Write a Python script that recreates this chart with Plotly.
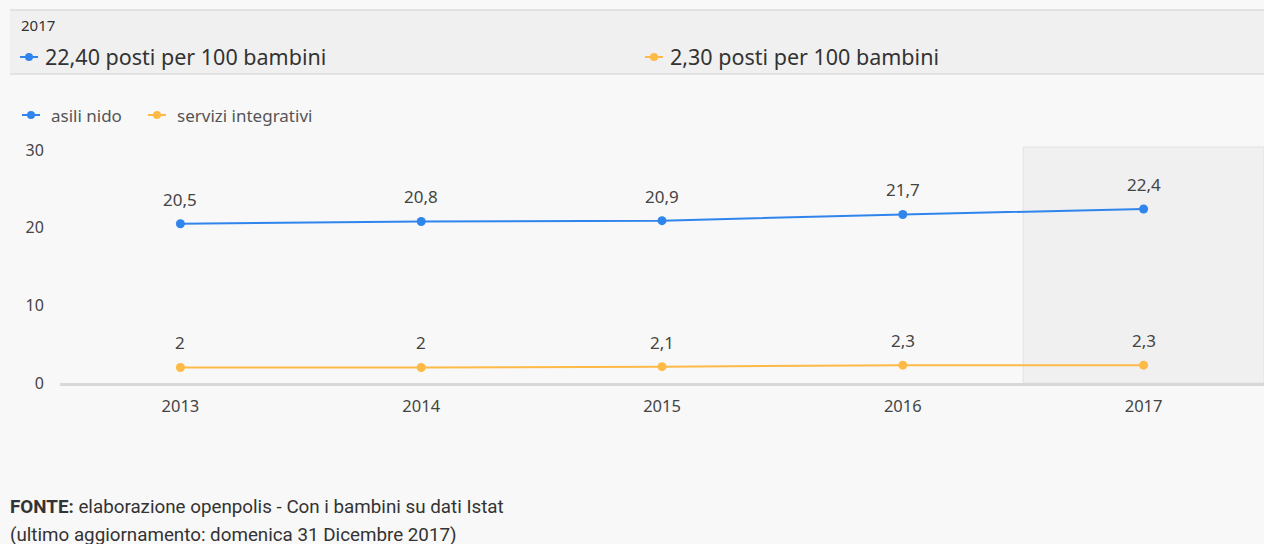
import plotly.graph_objects as go

years = [2013, 2014, 2015, 2016, 2017]
asili_nido = [20.5, 20.8, 20.9, 21.7, 22.4]
servizi_integrativi = [2.0, 2.0, 2.1, 2.3, 2.3]
series_names = ["asili nido", "servizi integrativi"]
y_ticks = [0, 10, 20, 30]
highlight_year = 2017
unit_text = "posti per 100 bambini"

BLUE = "#3085ec"
ORANGE = "#fdba47"
W, H = 1264, 544
FONT = "Noto Sans"

def px(x):
    return x / W

def py(y):
    return 1 - y / H

def fmt(v, dec=None):
    s = f"{v:.{dec}f}" if dec is not None else f"{v:g}"
    return s.replace(".", ",")

fig = go.Figure()
for name, vals, col in [(series_names[0], asili_nido, BLUE), (series_names[1], servizi_integrativi, ORANGE)]:
    fig.add_trace(go.Scatter(
        x=years, y=vals, name=name, mode="lines+markers",
        line=dict(color=col, width=2), marker=dict(color=col, size=9),
        hoverinfo="x+y", showlegend=False,
    ))

annotations = []
for vals in (asili_nido, servizi_integrativi):
    for x, v in zip(years, vals):
        annotations.append(dict(x=x, y=v, xref="x", yref="y", text=fmt(v), showarrow=False,
                                yanchor="bottom", yshift=11,
                                font=dict(family=FONT, size=17, color="#444")))

shapes = []
# highlighted year band
shapes.append(dict(type="rect", xref="x", yref="paper", x0=highlight_year - 0.5, x1=highlight_year + 0.5,
                   y0=py(383), y1=py(147), fillcolor="#f0f0f0", line=dict(color="#e2e2e2", width=1), layer="below"))
# header panel
shapes.append(dict(type="rect", xref="paper", yref="paper", x0=px(10), x1=px(1270), y0=py(74), y1=py(10),
                   fillcolor="#f0f0f0", line=dict(width=0), layer="below"))
for yy in (10, 74):
    shapes.append(dict(type="line", xref="paper", yref="paper", x0=px(10), x1=px(1270), y0=py(yy), y1=py(yy),
                       line=dict(color="#dcdcdc", width=1.5)))

def symbol(x0, ycen, col):
    shapes.append(dict(type="line", xref="paper", yref="paper", x0=px(x0), x1=px(x0 + 18), y0=py(ycen), y1=py(ycen),
                       line=dict(color=col, width=2)))
    shapes.append(dict(type="circle", xref="paper", yref="paper", x0=px(x0 + 5), x1=px(x0 + 13),
                       y0=py(ycen + 4), y1=py(ycen - 4), fillcolor=col, line=dict(width=0)))

annotations.append(dict(x=px(19), y=py(25), xref="paper", yref="paper", text=str(highlight_year), showarrow=False,
                        xanchor="left", yanchor="middle", font=dict(family=FONT, size=15, color="#333")))
for x0, vals, col in [(20, asili_nido, BLUE), (645, servizi_integrativi, ORANGE)]:
    symbol(x0, 57, col)
    annotations.append(dict(x=px(x0 + 23), y=py(57), xref="paper", yref="paper",
                            text=f"{fmt(vals[-1], 2)} {unit_text}", showarrow=False,
                            xanchor="left", yanchor="middle", font=dict(family=FONT, size=21.5, color="#333")))

# legend
for x0, name, col in [(22, series_names[0], BLUE), (148, series_names[1], ORANGE)]:
    symbol(x0, 115, col)
    annotations.append(dict(x=px(x0 + 27), y=py(115), xref="paper", yref="paper", text=name, showarrow=False,
                            xanchor="left", yanchor="middle", font=dict(family=FONT, size=17, color="#555")))

annotations.append(dict(x=px(8), y=py(507), xref="paper", yref="paper",
                        text="<b>FONTE:</b> elaborazione openpolis - Con i bambini su dati Istat", showarrow=False,
                        xanchor="left", yanchor="middle", font=dict(family="Roboto", size=18.8, color="#333")))
annotations.append(dict(x=px(8), y=py(535), xref="paper", yref="paper",
                        text="(ultimo aggiornamento: domenica 31 Dicembre 2017)", showarrow=False,
                        xanchor="left", yanchor="middle", font=dict(family="Roboto", size=18.8, color="#333")))

fig.update_layout(
    width=W, height=H, margin=dict(l=0, r=0, t=0, b=0),
    paper_bgcolor="#f8f8f8", plot_bgcolor="rgba(0,0,0,0)",
    font=dict(family=FONT, color="#444"),
    separators=",.",
    showlegend=False,
    xaxis=dict(domain=[px(60), 1], range=[years[0] - 0.5, years[-1] + 0.5], tickvals=years,
               showgrid=False, zeroline=False, showline=True, linecolor="#d8d8d8", linewidth=3,
               ticks="outside", ticklen=6, tickcolor="rgba(0,0,0,0)",
               tickfont=dict(family=FONT, size=16.5, color="#444"), automargin=False),
    yaxis=dict(domain=[py(383), py(150)], range=[0, 30], tickvals=y_ticks,
               showgrid=False, zeroline=False, showline=False,
               ticks="outside", ticklen=12, tickcolor="rgba(0,0,0,0)",
               tickfont=dict(family=FONT, size=16, color="#444"), automargin=False),
    shapes=shapes, annotations=annotations,
)

fig.write_html("out.html", config={"displayModeBar": False},
               post_script="document.body.style.margin='0';document.body.style.background='#f8f8f8';document.body.style.overflow='hidden';")
